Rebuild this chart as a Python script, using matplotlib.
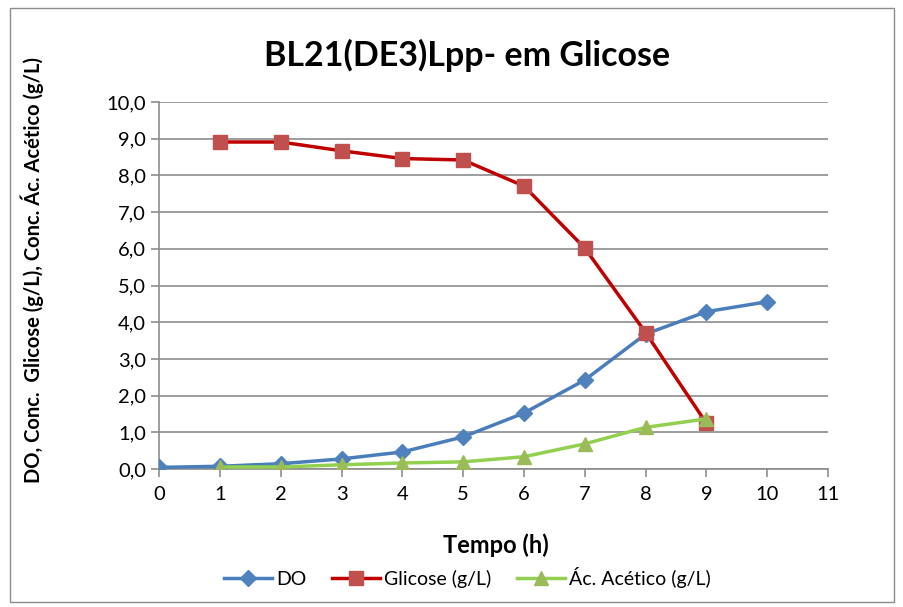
import matplotlib
matplotlib.use("Agg")
import matplotlib.pyplot as plt
from matplotlib.patches import Rectangle
from matplotlib.ticker import FuncFormatter, MultipleLocator

plt.rcParams['font.family'] = ['Lato', 'DejaVu Sans']

# data
tempo_do = [0, 1, 2, 3, 4, 5, 6, 7, 8, 9, 10]
do = [0.05, 0.08, 0.15, 0.28, 0.47, 0.88, 1.53, 2.43, 3.68, 4.29, 4.56]

tempo_glic = [1, 2, 3, 4, 5, 6, 7, 8, 9]
glicose = [8.91, 8.91, 8.67, 8.46, 8.42, 7.71, 6.02, 3.72, 1.25]

tempo_acet = [1, 2, 3, 4, 5, 6, 7, 8, 9]
acetico = [0.06, 0.06, 0.12, 0.17, 0.20, 0.34, 0.69, 1.14, 1.37]

fig = plt.figure(figsize=(9.04, 6.07), dpi=100)
ax = fig.add_axes([0.176, 0.227, 0.740, 0.605])

# outer chart border
fig.patches.append(Rectangle((0.011, 0.008), 0.978, 0.979, transform=fig.transFigure,
                             fill=False, edgecolor='#8c8c8c', linewidth=1.0))

ax.plot(tempo_do, do, color='#4A7EBB', linewidth=2.5, marker='D', markersize=8,
        markerfacecolor='#4F81BD', markeredgecolor='#4F81BD', label='DO', zorder=3)
ax.plot(tempo_glic, glicose, color='#C00000', linewidth=2.5, marker='s', markersize=10,
        markerfacecolor='#C0504D', markeredgecolor='#C0504D', label='Glicose (g/L)', zorder=3)
ax.plot(tempo_acet, acetico, color='#92D050', linewidth=2.5, marker='^', markersize=10,
        markerfacecolor='#9BBB59', markeredgecolor='#9BBB59', label='Ác. Acético (g/L)', zorder=4)

ax.set_xlim(0, 11)
ax.set_ylim(0, 10)
ax.xaxis.set_major_locator(MultipleLocator(1))
ax.yaxis.set_major_locator(MultipleLocator(1))
ax.yaxis.set_major_formatter(FuncFormatter(lambda v, p: f'{v:.1f}'.replace('.', ',')))

ax.grid(axis='y', color='#8c8c8c', linewidth=1.2)
ax.set_axisbelow(True)
for s in ['top', 'right']:
    ax.spines[s].set_visible(False)
for s in ['left', 'bottom']:
    ax.spines[s].set_color('#8c8c8c')
    ax.spines[s].set_linewidth(1.2)
ax.tick_params(axis='both', colors='#8c8c8c', labelcolor='black', labelsize=14.5,
               length=6, width=1.2)
ax.tick_params(axis='x', pad=6)

# title and axis labels placed like the original layout
fig.text(0.517, 0.909, 'BL21(DE3)Lpp- em Glicose', fontsize=24.5, fontweight='bold',
         ha='center', va='center')
fig.text(0.549, 0.102, 'Tempo (h)', fontsize=17, fontweight='bold', ha='center', va='center')
fig.text(0.036, 0.555, 'DO, Conc.  Glicose (g/L), Conc. Ác. Acético (g/L)', fontsize=14.5,
         fontweight='bold', ha='center', va='center', rotation=90)

fig.legend(*ax.get_legend_handles_labels(), loc='center', bbox_to_anchor=(0.517, 0.049),
           ncol=3, frameon=False, fontsize=14, handlelength=2.5, columnspacing=1.3,
           handletextpad=0.2)

fig.savefig('out.png', dpi=100)
